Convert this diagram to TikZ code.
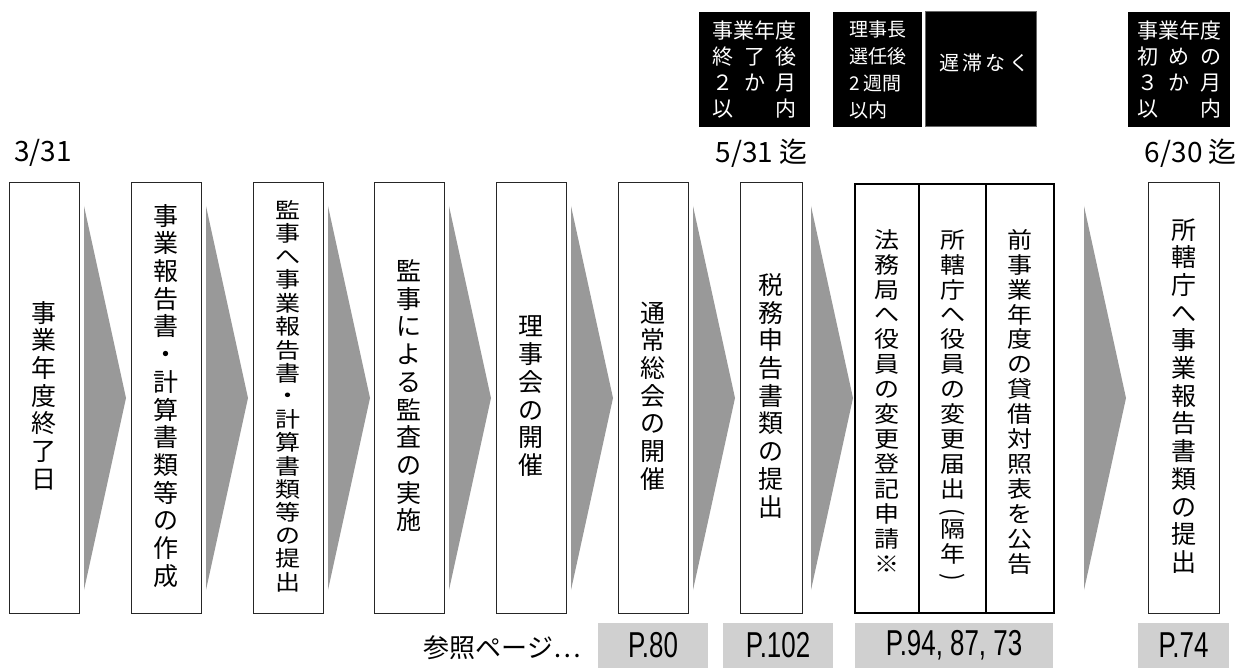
\documentclass[tikz,border=0pt]{standalone}
\usepackage{fontspec}
\usepackage{graphicx}
\setmainfont{Noto Sans CJK JP}
\newfontfamily\latinfont{Liberation Sans}
\makeatletter
\newdimen\vtpitch
\def\vt@lp{(}
\def\vt@rp{)}
\newcommand\vtext[2]{%
  \vtpitch=#1\relax
  \vbox{\offinterlineskip\@tfor\vt@c:=#2\do{%
    \ifx\vt@c\vt@lp
      \hbox to 1em{\hss\vrule height .62\vtpitch depth 0pt width 0pt\smash{\rotatebox[origin=c]{-90}{(}}\hss}%
    \else\ifx\vt@c\vt@rp
      \hbox to 1em{\hss\vrule height .62\vtpitch depth 0pt width 0pt\smash{\rotatebox[origin=c]{-90}{)}}\hss}%
    \else
      \hbox to 1em{\hss\vrule height 0.76\vtpitch depth 0.24\vtpitch width 0pt\vt@c\hss}%
    \fi\fi}}}
\makeatother
\newcommand\dl[1]{\makebox[4em][s]{#1}}
\newcommand\hf{\hfill{}}
\definecolor{arrowgray}{HTML}{999999}
\definecolor{labelgray}{HTML}{D0D0D0}
\tikzset{
  box/.style={draw=black!85, line width=1pt, fill=white, inner sep=0pt, minimum height=430pt},
  gbox/.style={draw=black, line width=1.6pt, inner sep=0pt, minimum height=429pt},
  blackbox/.style={fill=black, inner sep=0pt, minimum height=115pt, text=white},
  pageref/.style={fill=labelgray, inner sep=0pt, minimum height=45pt},
  datelbl/.style={inner sep=0pt, font=\fontsize{28}{28}\selectfont},
  chev/.style={fill=arrowgray},
}
\newcommand\mainfont{\fontsize{25}{25}\selectfont}
\newcommand\pfont[1]{{\latinfont\fontsize{36}{36}\selectfont\scalebox{0.72}[1]{#1}}}
\begin{document}
\begin{tikzpicture}[x=1pt,y=-1pt]
\useasboundingbox (0,0) rectangle (1239,668);
% chevrons
\foreach \lx in {84,206,328,449,571,693,811,1084}{
  \coordinate (ct) at (\lx,206);
  \fill[chev] (ct) -- ++(42,192) -- ++(-42,192) -- cycle;
}
% main boxes
\node[box, minimum width=70pt] (b1) at (44,398) {\mainfont\vtext{27.7pt}{事業年度終了日}};
\node[box, minimum width=70pt] (b2) at (166,398) {\mainfont\vtext{27.7pt}{事業報告書・計算書類等の作成}};
\node[box, minimum width=70pt] (b3) at (288,398) {\scalebox{1}[0.86]{\mainfont\vtext{26pt}{監事へ事業報告書・計算書類等の提出}}};
\node[box, minimum width=70pt] (b4) at (409,398) {\mainfont\vtext{27.7pt}{監事による監査の実施}};
\node[box, minimum width=70pt] (b5) at (531,398) {\mainfont\vtext{27.7pt}{理事会の開催}};
\node[box, minimum width=70pt] (b6) at (653,398) {\mainfont\vtext{27.7pt}{通常総会の開催}};
\node[box, minimum width=62pt] (b7) at (771,398) {\mainfont\vtext{27.7pt}{税務申告書類の提出}};
\node[box, minimum width=71pt] (b8) at (1183.5,398) {\mainfont\vtext{27.7pt}{所轄庁へ事業報告書類の提出}};
% group
\node[gbox, minimum width=64pt] (g1) at (887,398.5) {};
\node[gbox, minimum width=67pt] (g2) at (952.5,398.5) {};
\node[gbox, minimum width=68pt] (g3) at (1020,398.5) {};
\node[anchor=north, inner sep=0pt] (g1t) at (887,229) {\scalebox{1}[0.9]{\mainfont\vtext{27.7pt}{法務局へ役員の変更登記申請※}}};
\node[anchor=north, inner sep=0pt] (g2t) at (952.5,229) {\scalebox{1}[0.9]{\mainfont\vtext{27.7pt}{所轄庁へ役員の変更届出(隔年)}}};
\node[anchor=north, inner sep=0pt] (g3t) at (1020,229) {\scalebox{1}[0.9]{\mainfont\vtext{27.7pt}{前事業年度の貸借対照表を公告}}};
% top black boxes
\node[blackbox, minimum width=111pt, align=center, font=\fontsize{21}{26}\selectfont] (ta) at (754.5,69.5)
  {\dl{事\hf 業\hf 年\hf 度}\\ \dl{終\hf 了\hf 後}\\ \dl{２\hf か\hf 月}\\ \dl{以\hf 内}};
\node[blackbox, minimum width=89pt, align=left, font=\fontsize{19}{27}\selectfont] (tb) at (877.5,69.5)
  {理事長\\ 選任後\\ 2 週間\\ 以内};
\node[blackbox, minimum width=111pt, draw=black!60, line width=1pt] (tc) at (980.5,69.5) {};
\node[inner sep=0pt, text=white, font=\fontsize{20}{20}\selectfont] (tct) at (984,63) {遅\,滞\,な\,く};
\node[blackbox, minimum width=102pt, align=center, font=\fontsize{21}{26}\selectfont] (td) at (1179,69.5)
  {\dl{事\hf 業\hf 年\hf 度}\\ \dl{初\hf め\hf の}\\ \dl{３\hf か\hf 月}\\ \dl{以\hf 内}};
% dates
\node[datelbl, anchor=west] (d1) at (14,153) {3/31};
\node[datelbl, anchor=east] (d2) at (808,153) {5/31 迄};
\node[datelbl, anchor=east] (d3) at (1237,153) {6/30 迄};
% page references
\node[inner sep=0pt, anchor=east, font=\fontsize{26}{26}\selectfont] (ref) at (581,648) {参照ページ…};
\node[pageref, minimum width=110pt] (p1) at (653,645.5) {\pfont{P.80}};
\node[pageref, minimum width=110pt] (p2) at (778,645.5) {\pfont{P.102}};
\node[pageref, minimum width=198pt] (p3) at (954,645.5) {\pfont{P.94, 87, 73}};
\node[pageref, minimum width=91pt] (p4) at (1183.5,645.5) {\pfont{P.74}};
\end{tikzpicture}
\end{document}
